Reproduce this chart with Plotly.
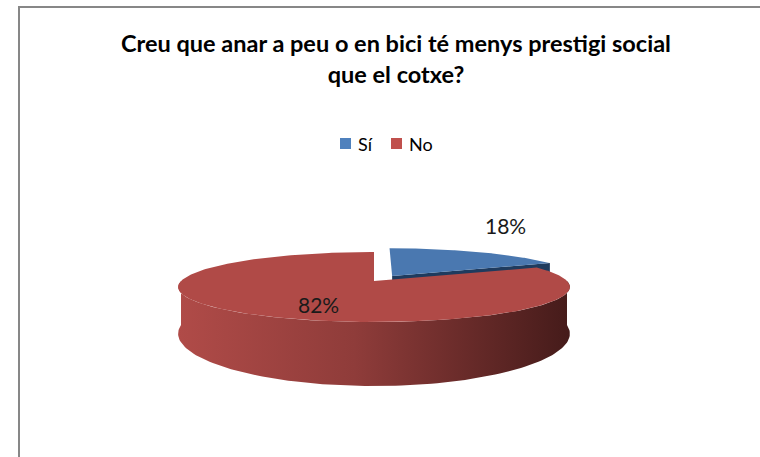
import numpy as np
import plotly.graph_objs as go

# data
labels = ["Sí", "No"]
values = [18, 82]
colors_top = ["#4a78b0", "#b04a47"]
colors_legend = ["#4f81bd", "#c0504d"]
color_blue_side = "#1f3b5e"
red_side_scale = [[0, "#b04b48"], [0.45, "#8f3c3a"], [1, "#451b1a"]]
title_text = "Creu que anar a peu o en bici té menys prestigi social<br>que el cotxe?"

# 3d pie geometry (pixels)
cx, cy = 374, 281
A, B = 193, 34
persp = 0.171
depth = 44
pulls = [0.18, 0.0]


def project(px, py):
    s = 1.0 / (1.0 + persp * py)
    return cx + A * px * s, cy - B * py * s, s


def arc(t0, t1, off=(0, 0), n=120, down=False):
    t = np.radians(np.linspace(t0, t1, n))
    px = np.cos(t) + off[0]
    py = np.sin(t) + off[1]
    x, y, s = project(px, py)
    if down:
        y = y + depth * s ** 2
    return list(x), list(y)


fig = go.Figure()

total = float(sum(values))
start = 90.0
slices = []
for lab, v, p in zip(labels, values, pulls):
    span = 360.0 * v / total
    t0, t1 = start - span, start  # clockwise from 12 o'clock
    mid = np.radians((t0 + t1) / 2)
    off = (p * np.cos(mid), p * np.sin(mid))
    slices.append((lab, t0, t1, off, mid))
    start = t0

# blue slice: radial face + top
lab, t0, t1, off, mid = slices[0]
x0, y0, s0 = project(off[0], off[1])
ex, ey, es = project(np.cos(np.radians(t0)) + off[0], np.sin(np.radians(t0)) + off[1])
fig.add_trace(go.Scatter(
    x=[x0, ex, ex, x0, x0], y=[y0, ey, ey + depth * es ** 2, y0 + depth * s0 ** 2, y0],
    fill="toself", fillcolor=color_blue_side, line=dict(width=0),
    mode="lines", hoverinfo="skip", showlegend=False))
ax, ay = arc(t0, t1, off)
fig.add_trace(go.Scatter(
    x=[x0] + ax + [x0], y=[y0] + ay + [y0],
    fill="toself", fillcolor=colors_top[0], line=dict(width=0),
    mode="lines", hoverinfo="skip", showlegend=False))

# red slice: front side with gradient + top
lab, t0, t1, off, mid = slices[1]
sx, sy = arc(180, 360, off)
bx, by = arc(360, 180, off, down=True)
fig.add_trace(go.Scatter(
    x=sx + bx + [sx[0]], y=sy + by + [sy[0]],
    fill="toself", line=dict(width=0),
    fillgradient=dict(type="horizontal", colorscale=red_side_scale),
    mode="lines", hoverinfo="skip", showlegend=False))
x0, y0, s0 = project(off[0], off[1])
ax, ay = arc(t0, t1, off, n=300)
fig.add_trace(go.Scatter(
    x=[x0] + ax + [x0], y=[y0] + ay + [y0],
    fill="toself", fillcolor=colors_top[1], line=dict(width=0),
    mode="lines", hoverinfo="skip", showlegend=False))

# percentage labels
label_r = [1.38, 0.5]
label_lift = [-19, 8]
for (lab, t0, t1, off, mid), v, r, lift in zip(slices, values, label_r, label_lift):
    lx, ly, _ = project(r * np.cos(mid) + off[0], r * np.sin(mid) + off[1])
    fig.add_annotation(x=lx, y=ly + lift, text="%d%%" % round(100 * v / total),
                       showarrow=False, font=dict(size=21, color="#1a1a1a", family="Lato"))

# title
fig.add_annotation(x=396, y=58, text=title_text, showarrow=False, yanchor="middle",
                   font=dict(family="Lato", size=23.5, color="#000000", weight=700))

# legend (drawn by hand so the key/text spacing matches)
shapes = []
key_x = [340, 391]
for lab, c, kx in zip(labels, colors_legend, key_x):
    shapes.append(dict(type="rect", x0=kx, x1=kx + 11, y0=138, y1=149,
                       fillcolor=c, line=dict(width=0)))
    fig.add_annotation(x=kx + 16, y=143.5, text=lab, showarrow=False, xanchor="left",
                       yanchor="middle", font=dict(family="Lato", size=18, color="#000000"))

# chart border
shapes.append(dict(type="rect", xref="paper", yref="paper",
                   x0=19 / 760, x1=1.02, y0=-0.02, y1=1 - 7 / 457,
                   line=dict(color="#878787", width=2)))

fig.update_layout(
    width=760, height=457,
    margin=dict(l=0, r=0, t=0, b=0),
    paper_bgcolor="white", plot_bgcolor="white",
    showlegend=False,
    xaxis=dict(range=[0, 760], visible=False, fixedrange=True),
    yaxis=dict(range=[457, 0], visible=False, fixedrange=True),
    shapes=shapes,
)

fig.write_html("out.html", config={"displayModeBar": False},
               post_script="document.body.style.margin='0';")
